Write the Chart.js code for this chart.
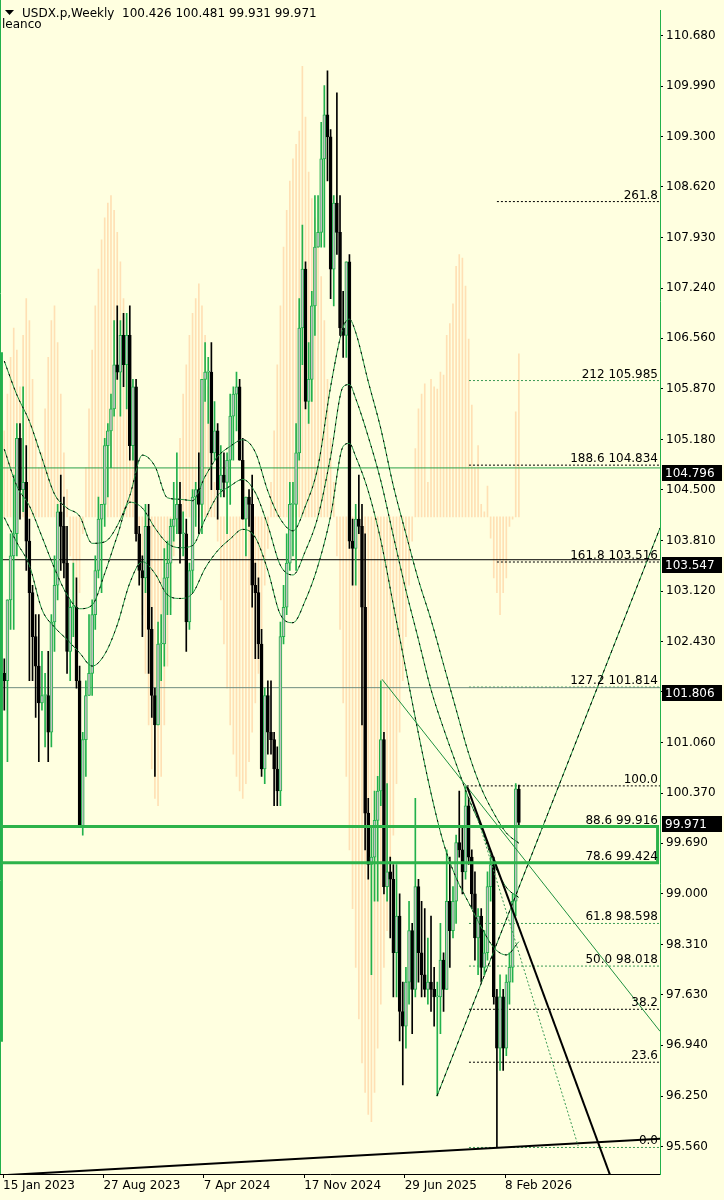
<!DOCTYPE html>
<html>
<head>
<meta charset="utf-8">
<script src="https://cdn.jsdelivr.net/npm/chart.js@4.4.1/dist/chart.umd.min.js"></script>
<style>
html, body { margin: 0; padding: 0; background: #ffffe0; }
#wrap { width: 724px; height: 1200px; }
</style>
</head>
<body>
<div id="wrap"><canvas id="myChart" width="724" height="1200"></canvas></div>
<script>
// weekly bars, index 0 = first bar at the left edge
const tickWeeks = [0, 32, 64, 96, 128, 160];
const tickText = ['15 Jan 2023', '27 Aug 2023', '7 Apr 2024', '17 Nov 2024', '29 Jun 2025', '8 Feb 2026'];
const priceTicks = [110.68, 109.99, 109.3, 108.62, 107.93, 107.24, 106.56, 105.87, 105.18, 104.5, 103.81,
  103.12, 102.43, 101.75, 101.06, 100.37, 99.69, 99.0, 98.31, 97.63, 96.94, 96.25, 95.56];

const opens = [102.0,101.9,103.0,103.6,103.9,105.2,104.5,104.6,103.8,103.1,102.5,102.1,101.6,101.7,101.7,101.2,102.7,103.2,104.2,104.0,
  103.5,102.3,102.9,102.9,101.9,99.9,101.1,101.7,102.0,102.8,103.4,104.1,104.3,105.1,105.3,105.6,106.2,106.1,106.6,106.2,
  106.6,105.1,105.9,103.9,103.4,103.3,104.0,102.6,101.7,101.3,102.4,102.4,103.3,103.5,104.0,104.1,104.3,103.9,103.9,102.7,
  103.4,104.4,104.5,104.3,106.0,106.1,106.1,105.0,105.3,104.5,104.7,104.6,104.9,105.5,105.8,105.9,104.9,104.1,104.4,104.3,
  103.2,103.1,102.4,100.7,101.7,101.2,101.1,100.7,100.4,102.5,102.9,103.5,104.3,104.3,105.0,106.7,107.5,105.7,106.0,107.0,
  107.8,108.0,109.0,109.6,109.3,107.5,108.4,108.0,106.7,106.6,107.6,103.8,103.7,104.1,104.0,102.9,100.1,99.4,99.5,100.0,
  100.4,101.1,99.1,99.3,99.2,98.2,98.7,97.4,97.2,97.8,98.5,97.7,99.1,98.2,97.9,97.7,97.8,97.7,97.6,97.6,
  98.1,97.7,98.9,98.5,98.9,99.7,99.6,99.3,100.2,99.5,99.0,98.4,98.7,98.0,98.2,99.1,99.4,97.6,96.9,97.6,
  96.9,97.8,98.0,98.9,100.426];
const highs = [102.2,103.0,103.9,104.7,105.4,105.4,105.9,105.1,104.1,103.2,102.8,102.8,102.3,102.0,102.3,102.8,103.6,104.3,104.7,104.4,
  104.0,103.0,103.5,103.3,102.1,101.2,101.9,102.8,103.0,103.6,104.4,104.3,105.2,105.4,105.8,106.8,107.0,106.8,106.9,106.9,
  107.0,106.0,106.0,104.0,103.6,104.3,104.3,102.9,101.8,102.7,102.8,103.7,103.8,104.1,104.6,105.0,104.6,104.2,104.1,103.5,
  104.5,104.6,105.0,106.0,106.5,106.3,106.5,105.7,105.4,105.1,105.0,105.0,105.8,105.9,106.1,106.0,105.2,104.4,104.5,104.7,
  103.5,103.3,102.6,101.8,101.9,101.9,101.2,101.0,102.7,103.2,103.9,104.6,104.6,105.4,107.1,108.1,107.6,106.5,107.2,108.5,
  108.5,109.5,110.0,110.2,109.4,108.5,109.9,108.5,107.2,107.6,107.7,104.1,104.3,104.7,104.3,103.9,100.3,99.9,100.4,100.6,
  101.9,101.2,100.5,99.5,99.4,99.4,99.0,97.8,98.0,98.9,98.6,100.3,99.2,98.9,98.8,98.4,98.7,98.0,97.8,98.6,
  98.2,99.6,99.5,99.1,99.8,100.4,99.9,100.46,100.3,99.6,99.3,98.8,98.8,98.5,99.3,99.5,99.5,97.7,97.9,97.7,
  97.9,98.2,99.0,100.5,100.481];
const lows = [101.5,100.8,102.6,102.6,103.6,104.1,104.2,103.4,101.9,101.9,101.4,100.8,101.5,101.0,100.8,101.0,102.3,103.0,103.4,103.3,
  102.0,101.9,102.5,101.8,99.9,99.8,100.6,101.7,101.7,102.6,103.3,103.1,104.0,104.4,104.8,105.5,106.0,105.5,105.9,105.6,
  104.9,104.9,103.8,103.2,102.5,103.1,102.0,101.4,100.6,101.3,101.9,102.1,102.8,102.8,103.8,103.9,103.5,103.6,102.3,102.6,
  103.1,104.0,103.9,103.9,105.7,105.4,104.5,104.9,104.1,104.4,104.4,103.9,104.3,104.9,105.3,104.9,104.1,103.6,104.0,102.9,
  102.2,102.2,100.6,100.5,100.9,100.9,100.2,100.2,100.2,102.4,102.8,103.4,103.6,103.4,104.9,106.2,105.6,105.4,105.7,106.6,
  107.8,107.8,107.8,108.7,107.1,107.0,107.7,106.6,106.3,106.3,103.7,103.2,103.2,103.9,101.3,99.6,99.2,97.9,98.9,98.9,
  100.2,99.0,98.9,98.4,97.6,97.6,97.0,96.4,96.9,97.5,97.1,97.6,97.8,97.6,97.6,97.5,97.4,97.2,96.25,97.1,
  97.4,97.7,98.0,98.4,98.6,99.5,99.0,99.2,99.4,98.8,98.1,97.9,97.8,97.9,98.1,98.9,97.5,95.56,96.6,96.6,
  96.8,97.5,97.8,98.7,99.931];
const closes = [101.9,103.0,103.6,103.9,105.2,104.5,104.6,103.8,103.1,102.5,102.1,101.6,101.7,101.7,101.2,102.7,103.2,104.2,104.0,103.5,
  102.3,102.9,102.9,101.9,99.9,101.1,101.7,102.0,102.8,103.4,104.1,104.3,105.1,105.3,105.6,106.2,106.1,106.6,106.2,106.6,
  105.1,105.9,103.9,103.4,103.3,104.0,102.6,101.7,101.3,102.4,102.4,103.3,103.5,104.0,104.1,104.3,103.9,103.9,102.7,103.4,
  104.4,104.5,104.3,106.0,106.1,106.1,105.0,105.3,104.5,104.7,104.6,104.9,105.5,105.8,105.9,104.9,104.1,104.4,104.3,103.2,
  103.1,102.4,100.7,101.7,101.2,101.1,100.7,100.4,102.5,102.9,103.5,104.3,104.3,105.0,106.7,107.5,105.7,106.0,107.0,107.8,
  108.0,109.0,109.6,109.3,107.5,108.4,108.0,106.7,106.6,107.6,103.8,103.7,104.1,104.0,102.9,100.1,99.4,99.5,100.0,100.4,
  101.1,99.1,99.3,99.2,98.2,98.7,97.4,97.2,97.8,98.5,97.7,99.1,98.2,97.9,97.7,97.8,97.7,97.6,97.6,98.1,
  97.7,98.9,98.5,98.9,99.7,99.6,99.3,100.2,99.5,99.0,98.4,98.7,98.0,98.2,99.1,99.4,97.6,96.9,97.6,96.9,
  97.8,98.0,98.9,100.43,99.971];

// faint orange histogram behind the bars
const ghostBase = 104.13;
const ghost = [105.3,105.8,106.3,106.7,106.4,105.9,106.6,107.1,106.8,106.0,
  105.2,104.8,105.0,105.6,106.3,106.8,107.0,106.5,105.8,105.0,
  104.5,103.6,102.9,102.6,103.1,103.9,104.8,105.6,106.4,107.0,
  107.5,107.9,108.2,108.4,108.5,108.3,108.0,107.6,107.1,106.4,
  105.7,105.0,104.4,103.6,102.8,102.0,101.3,100.7,100.3,100.2,
  100.6,101.3,102.1,102.9,103.6,104.6,105.2,105.8,106.2,106.6,
  106.9,107.1,107.3,107.0,106.6,105.9,105.2,104.6,103.8,103.0,
  102.4,101.8,101.3,100.9,100.6,100.4,100.3,100.5,100.8,101.2,
  101.6,102.0,102.6,103.2,103.7,104.6,105.3,106.2,107.0,107.8,
  108.3,108.7,109.0,109.2,109.38,110.26,109.57,108.82,108.46,108.2,
  108.0,107.4,106.8,106.0,105.2,104.6,103.6,102.6,101.6,100.6,
  99.6,98.8,98.0,97.3,96.7,96.3,96.0,95.9,96.3,96.9,
  97.5,98.0,98.5,99.2,99.8,100.5,101.2,101.9,102.5,103.2,103.8,
  105.06,105.6,105.8,105.94,104.6,106.0,105.9,105.87,106.1,106.06,106.6,106.76,107.03,107.54,107.7,107.65,107.27,
  106.55,105.65,104.8,105.1,104.3,104.2,104.55,103.84,103.3,103.1,102.8,103.1,103.3,104.0,104.1,105.56,106.35];

// three moving-average bands, sampled every 4 bars
const maIdx = [0,4,8,12,16,20,24,28,32,36,40,44,48,52,56,60,64,68,72,76,80,84,88,92,96,100,104,108,110,112,116,120,124,128,132,136,140,144,148,152,156,160,164];
const maUpper = [106.25,105.79,105.43,104.93,104.44,104.25,104.14,103.77,103.79,104.01,104.42,104.97,104.82,104.39,104.37,104.35,104.68,104.95,105.09,105.18,105.01,104.48,104.10,103.94,104.28,104.82,105.90,106.71,106.82,106.64,105.97,105.33,104.55,103.90,103.27,102.73,102.12,101.51,100.91,100.44,100.10,99.83,99.69];
const maMid = [105.05,104.55,104.28,103.86,103.43,103.07,102.88,102.93,103.36,103.87,104.33,104.25,103.98,103.77,103.71,103.74,104.10,104.42,104.55,104.64,104.46,104.01,103.47,103.34,103.67,104.14,104.95,105.90,105.93,105.74,105.22,104.62,103.87,103.13,102.46,101.78,101.25,100.77,100.30,99.90,99.42,99.09,98.95];
const maLower = [104.12,103.78,103.47,102.87,102.63,102.46,102.28,102.10,102.26,102.66,103.23,103.52,103.36,103.07,103.02,103.09,103.43,103.67,103.83,103.96,103.85,103.40,102.80,102.69,103.0,103.47,104.14,105.09,105.13,104.95,104.48,103.81,102.93,102.05,101.18,100.37,99.69,99.22,98.88,98.55,98.27,98.17,98.35];

// fibonacci levels (start bar of each dotted level)
const fibPrice = [108.42, 105.985, 104.834, 103.516, 101.814, 100.47, 99.916, 99.424, 98.598, 98.018, 97.43, 96.71, 95.55];
const fibFrom = [157, 148.1, 148.1, 157, 148.1, 147.4, 148.1, 148.1, 148.1, 148.1, 148.1, 148.1, 148.1];
const fibText = ['261.8', '212 105.985', '188.6 104.834', '161.8 103.516', '127.2 101.814', '100.0', '88.6 99.916',
  '78.6 99.424', '61.8 98.598', '50.0 98.018', '38.2', '23.6', '0.0'];
const fibGreen = [false, true, false, false, true, false, false, false, true, true, false, false, true];

// horizontal lines with price boxes
const hlinePrice = [104.796, 103.547, 101.806];
const lastPrice = 99.971;
const zoneTop = 99.916, zoneBottom = 99.424;

// trend lines: [x0, price0, x1, price1]
const trendThin = [120.4, 101.92, 209.0, 97.13];
const trendUp = [137.9, 96.25, 209.0, 103.98];
const trendBold = [147.5, 100.46, 193.1, 95.17];
const trendDotted = [148.4, 100.37, 182.9, 95.57];
const trendBase = [-1.37, 95.17, 209.0, 95.67];
const edgeMark = [-0.75, 106.37, 96.99];

const xMin = -1.37, xMax = 208.98, yMin = 95.189, yMax = 111.024;

const bull = '#22b14c', bullFill = '#c0c0c0', bear = '#000000';
const ghostColor = '#ffe0b4';

const wickData = [], bodyData = [], wickCol = [], bodyCol = [], bodyEdge = [], ghostData = [];
for (let i = 0; i < closes.length; i++) {
  const up = closes[i] >= opens[i];
  wickData.push({x: i, y: [lows[i], highs[i]]});
  bodyData.push({x: i, y: [Math.min(opens[i], closes[i]), Math.max(opens[i], closes[i])]});
  wickCol.push(up ? bull : bear);
  bodyCol.push(up ? bullFill : bear);
  bodyEdge.push(up ? bull : bear);
}
ghost.forEach((g, i) => ghostData.push({x: i, y: [Math.min(g, ghostBase), Math.max(g, ghostBase)]}));

function seg(t) { return [{x: t[0], y: t[1]}, {x: t[2], y: t[3]}]; }
function lineSet(data, color, width, dash, order) {
  return {type: 'line', data: data, borderColor: color, borderWidth: width, borderDash: dash || [],
    pointRadius: 0, fill: false, tension: 0, order: order};
}
function maSet(vals, color, dash, order) {
  const ds = lineSet(maIdx.map((x, k) => ({x: x, y: vals[k]})), color, 1, dash, order);
  ds.cubicInterpolationMode = 'monotone';
  return ds;
}

const datasets = [];
datasets.push({type: 'bar', data: ghostData, backgroundColor: ghostColor, barThickness: 1, grouped: false, order: 30});
fibPrice.forEach((p, k) => {
  datasets.push(lineSet([{x: fibFrom[k], y: p}, {x: xMax + 1, y: p}], fibGreen[k] ? '#3a9a55' : '#000', 1, [2, 2], 25));
});
datasets.push(lineSet([{x: xMin - 1, y: hlinePrice[0]}, {x: xMax + 1, y: hlinePrice[0]}], '#2aa04a', 1, [], 24));
datasets.push(lineSet([{x: xMin - 1, y: hlinePrice[1]}, {x: xMax + 1, y: hlinePrice[1]}], '#000', 1, [], 24));
datasets.push(lineSet([{x: xMin - 1, y: hlinePrice[2]}, {x: xMax + 1, y: hlinePrice[2]}], '#6f8c80', 1, [], 24));
datasets.push({type: 'bar', data: wickData, backgroundColor: wickCol, barThickness: 1, grouped: false, minBarLength: 1, order: 12});
datasets.push({type: 'bar', data: bodyData, backgroundColor: bodyCol, borderColor: bodyEdge, borderWidth: 1,
  borderSkipped: false, barThickness: 3, grouped: false, minBarLength: 1, order: 11});
[maUpper, maMid, maLower].forEach(v => {
  datasets.push(maSet(v, '#1f9140', [], 8));
  datasets.push(maSet(v, '#000', [2, 5], 7));
});
datasets.push(lineSet(seg(trendThin), '#1f9140', 1, [], 5));
datasets.push(lineSet(seg(trendUp), '#1f9140', 1, [], 5));
datasets.push(lineSet(seg(trendUp), '#000', 1, [3, 4], 4));
datasets.push(lineSet(seg(trendBold), '#000', 2, [], 4));
datasets.push(lineSet(seg(trendDotted), '#3a9a55', 1, [2, 2], 4));
datasets.push(lineSet(seg(trendBase), '#000', 2, [], 4));
datasets.push(lineSet([{x: edgeMark[0], y: edgeMark[1]}, {x: edgeMark[0], y: edgeMark[2]}], '#22b14c', 2, [], 4));
datasets.push(lineSet([{x: xMin, y: zoneTop}, {x: 208.2, y: zoneTop}, {x: 208.2, y: zoneBottom}, {x: xMin, y: zoneBottom}],
  '#2db34a', 3, [], 2));

const overlay = {
  id: 'overlay',
  beforeDraw(chart) {
    const c = chart.ctx;
    c.save();
    c.fillStyle = '#ffffe0';
    c.fillRect(0, 0, chart.width, chart.height);
    c.restore();
  },
  afterDraw(chart) {
    const c = chart.ctx, area = chart.chartArea, ys = chart.scales.y;
    c.save();
    c.font = '12px "DejaVu Sans"';
    c.fillStyle = '#000';
    c.textAlign = 'right';
    c.textBaseline = 'alphabetic';
    fibPrice.forEach((p, k) => c.fillText(fibText[k], area.right - 2, ys.getPixelForValue(p) - 3));
    // left frame
    c.strokeStyle = '#22b14c';
    c.lineWidth = 1;
    c.beginPath(); c.moveTo(0.5, 0); c.lineTo(0.5, area.bottom); c.stroke();
    c.textAlign = 'left';
    c.textBaseline = 'middle';
    // boxes of the drawn lines sit a little under their line, the last price box is centred
    hlinePrice.concat([lastPrice]).forEach((p, k) => {
      const py = Math.round(ys.getPixelForValue(p)) + (k < hlinePrice.length ? 4 : 0);
      c.fillStyle = '#000';
      c.fillRect(area.right + 2, py - 7, 60, 16);
      c.fillStyle = '#fff';
      c.fillText(p.toFixed(3), area.right + 5, py + 2);
    });
    c.fillStyle = '#000';
    c.textBaseline = 'alphabetic';
    c.beginPath(); c.moveTo(5, 10); c.lineTo(14, 10); c.lineTo(9.5, 15); c.closePath(); c.fill();
    c.fillText('USDX.p,Weekly  100.426 100.481 99.931 99.971', 22, 17);
    c.fillText('leanco', 2, 28);
    c.restore();
  }
};

new Chart('myChart', {
  type: 'bar',
  data: {datasets: datasets},
  options: {
    responsive: false,
    animation: false,
    events: [],
    layout: {padding: 0},
    plugins: {legend: {display: false}, tooltip: {enabled: false}},
    scales: {
      x: {
        type: 'linear', min: xMin, max: xMax, offset: false,
        grid: {drawOnChartArea: false, tickLength: 4, tickColor: '#000', offset: false},
        border: {color: '#000', width: 1},
        afterBuildTicks: s => { s.ticks = tickWeeks.map(w => ({value: w - 0.41})); },
        afterFit: s => { s.height = 26; },
        ticks: {align: 'start', autoSkip: false, maxRotation: 0, padding: 1, color: '#000',
          font: {family: 'DejaVu Sans', size: 12},
          callback: (v, i) => tickText[i]}
      },
      y: {
        position: 'right', min: yMin, max: yMax,
        grid: {drawOnChartArea: false, tickLength: 3, tickColor: '#000'},
        border: {color: '#22b14c', width: 1},
        afterBuildTicks: s => { s.ticks = priceTicks.map(v => ({value: v})); },
        afterFit: s => { s.width = 64; },
        ticks: {autoSkip: false, padding: 3, color: '#000', font: {family: 'DejaVu Sans', size: 12},
          callback: v => v.toFixed(3)}
      }
    }
  },
  plugins: [overlay]
});
</script>
</body>
</html>
